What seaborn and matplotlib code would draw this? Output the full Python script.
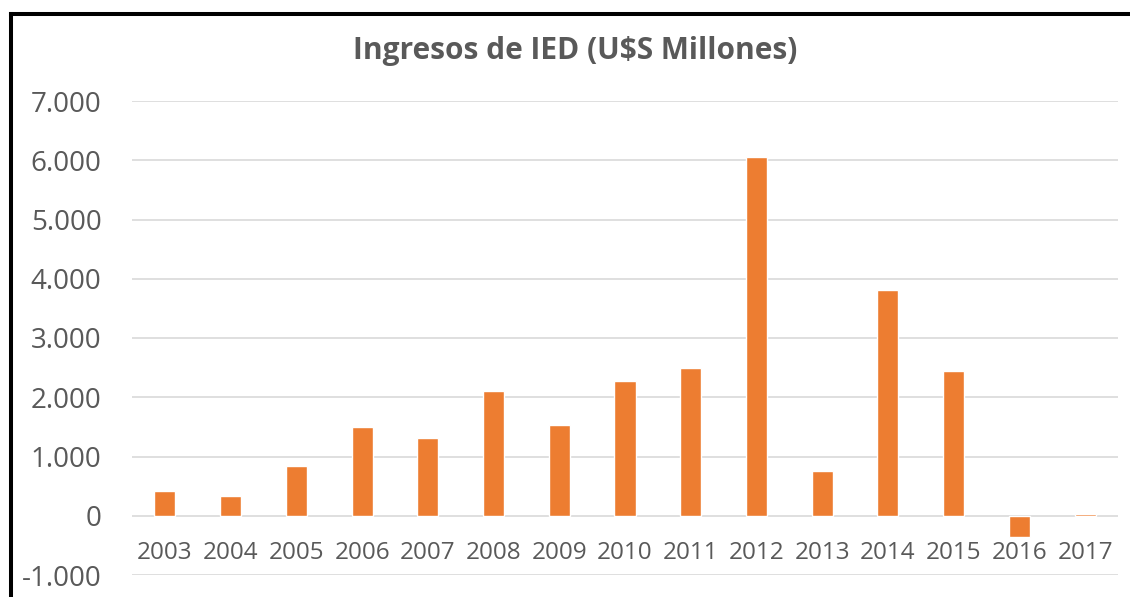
import pandas as pd
import seaborn as sns
import matplotlib.pyplot as plt
from matplotlib.lines import Line2D
from matplotlib.ticker import FuncFormatter

# Ingresos de IED, U$S millones
years = ['2003', '2004', '2005', '2006', '2007', '2008', '2009', '2010',
         '2011', '2012', '2013', '2014', '2015', '2016', '2017']
ied = [422, 338, 845, 1503, 1318, 2111, 1537, 2280,
       2500, 6047, 755, 3818, 2449, -365, 25]

data = pd.DataFrame({'Año': years, 'IED': ied})

sns.set_style('white')
plt.rcParams['font.family'] = ['Open Sans', 'DejaVu Sans']

gray = '#595959'
fig = plt.figure(figsize=(11.3, 5.97), dpi=100)
ax = fig.add_axes([132 / 1130, 1 - 575 / 597, (1118 - 132) / 1130, (575 - 101) / 597])

sns.barplot(data, x='Año', y='IED', color='#ED7D31', width=0.32, saturation=1, ax=ax, zorder=3)

ax.set_ylim(-1000, 7000)
ax.set_yticks(range(-1000, 7001, 1000))
ax.yaxis.set_major_formatter(FuncFormatter(lambda v, p: f'{int(v):,}'.replace(',', '.')))
ax.grid(axis='y', color='#d9d9d9', lw=1.2, zorder=0)
for s in ax.spines.values():
    s.set_visible(False)
ax.spines['bottom'].set_position(('data', 0))
ax.tick_params(axis='y', length=0, labelsize=20, labelcolor=gray, pad=22)
ax.tick_params(axis='x', length=0, labelsize=17.5, labelcolor=gray, pad=18)
ax.set_xlabel('')
ax.set_ylabel('')

fig.text(0.509, 1 - 51 / 597, 'Ingresos de IED (U$S Millones)', ha='center', va='center',
         fontsize=21.5, fontweight='bold', color=gray)

# marco negro (solo borde izquierdo y superior visibles)
fig.add_artist(Line2D([10.5 / 1130, 10.5 / 1130], [0, 1 - 13.7 / 597],
                      transform=fig.transFigure, color='black', lw=2.9, solid_capstyle='projecting'))
fig.add_artist(Line2D([10.5 / 1130, 1], [1 - 13.7 / 597, 1 - 13.7 / 597],
                      transform=fig.transFigure, color='black', lw=2.9, solid_capstyle='projecting'))

fig.savefig('out.png', dpi=100)
